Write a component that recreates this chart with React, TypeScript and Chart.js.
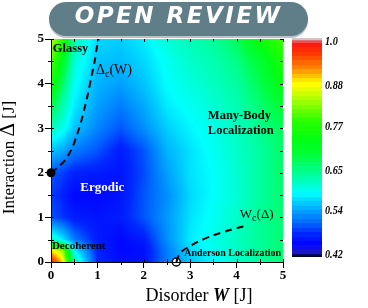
import React, { useEffect, useRef } from 'react';
import { Chart, registerables } from 'chart.js';
Chart.register(...registerables);

const SERIF = '"Liberation Serif", "Times New Roman", serif';

// Grid of the map (disorder W across, interaction Δ up)
const gridW = [0, 0.25, 0.5, 1, 1.5, 2, 2.5, 3, 3.5, 4, 4.5, 5];
const gridD = [0, 0.25, 0.5, 1, 1.5, 2, 2.5, 3, 3.5, 4, 4.5, 5];

// Map values, one row per Δ (ascending), columns follow gridW
const rowD0 = [1.0, 0.9, 0.64, 0.48, 0.46, 0.465, 0.52, 0.56, 0.585, 0.615, 0.64, 0.665];
const rowD025 = [0.9, 0.84, 0.59, 0.475, 0.455, 0.46, 0.52, 0.57, 0.595, 0.618, 0.642, 0.665];
const rowD05 = [0.62, 0.58, 0.52, 0.47, 0.455, 0.47, 0.53, 0.58, 0.6, 0.62, 0.645, 0.665];
const rowD1 = [0.5, 0.485, 0.47, 0.465, 0.47, 0.5, 0.535, 0.575, 0.595, 0.615, 0.645, 0.665];
const rowD15 = [0.49, 0.475, 0.455, 0.455, 0.465, 0.5, 0.53, 0.57, 0.59, 0.61, 0.64, 0.668];
const rowD2 = [0.5, 0.49, 0.475, 0.47, 0.465, 0.495, 0.54, 0.575, 0.59, 0.612, 0.64, 0.67];
const rowD25 = [0.56, 0.545, 0.52, 0.5, 0.47, 0.5, 0.55, 0.575, 0.595, 0.615, 0.64, 0.67];
const rowD3 = [0.62, 0.6, 0.56, 0.525, 0.5, 0.53, 0.565, 0.585, 0.6, 0.62, 0.65, 0.68];
const rowD35 = [0.69, 0.63, 0.58, 0.54, 0.52, 0.545, 0.58, 0.595, 0.61, 0.63, 0.665, 0.7];
const rowD4 = [0.77, 0.67, 0.595, 0.55, 0.54, 0.56, 0.59, 0.605, 0.62, 0.64, 0.68, 0.74];
const rowD45 = [0.81, 0.72, 0.61, 0.56, 0.555, 0.57, 0.595, 0.615, 0.63, 0.655, 0.7, 0.77];
const rowD5 = [0.85, 0.78, 0.63, 0.57, 0.565, 0.58, 0.61, 0.625, 0.645, 0.675, 0.75, 0.8];
const mapRows = [rowD0, rowD025, rowD05, rowD1, rowD15, rowD2, rowD25, rowD3, rowD35, rowD4, rowD45, rowD5];

// Colour bar
const cbLabels = ['1.0', '0.88', '0.77', '0.65', '0.54', '0.42'];
const cbValues = [1.0, 0.88, 0.77, 0.65, 0.54, 0.42];

// Critical line Δc(W)
const critDeltaW = [0, 0.15, 0.3, 0.44, 0.55, 0.65, 0.73, 0.8, 0.87, 0.94, 1.01, 1.03];
const critDeltaD = [2.0, 2.12, 2.28, 2.52, 2.82, 3.15, 3.48, 3.79, 4.15, 4.5, 4.95, 5.0];
// Critical line Wc(Δ)
const critWW = [2.7, 2.78, 3.0, 3.2, 3.5, 3.8, 4.07, 4.25];
const critWD = [0.0, 0.2, 0.36, 0.47, 0.6, 0.7, 0.78, 0.82];
// Special points
const glassyPoint = { x: 0, y: 2 };
const andersonPoint = { x: 2.7, y: 0 };

// Region labels (data coordinates of the text's left baseline)
const regionLabels = [
  { text: 'Glassy', x: 0.04, y: 4.71, font: 'bold 12.5px', color: '#000' },
  { text: 'Many-Body', x: 3.38, y: 3.2, font: 'bold 12.5px', color: '#000' },
  { text: 'Localization', x: 3.38, y: 2.88, font: 'bold 12.5px', color: '#000' },
  { text: 'Ergodic', x: 0.63, y: 1.6, font: 'bold 13px', color: '#fff' },
  { text: 'Decoherent', x: 0.02, y: 0.29, font: 'bold 11px', color: '#000' },
  { text: 'Anderson Localization', x: 2.87, y: 0.13, font: 'bold 10px', color: '#000' },
];

const cmapStops: number[][] = [
  [0.414, 0, 0, 0], [0.424, 10, 10, 120], [0.432, 30, 30, 225], [0.45, 0, 0, 255],
  [0.48, 0, 40, 255], [0.507, 0, 100, 255], [0.534, 0, 150, 255], [0.562, 0, 200, 255],
  [0.589, 0, 255, 255], [0.616, 0, 255, 200], [0.651, 0, 255, 140], [0.692, 0, 255, 60],
  [0.733, 0, 255, 20], [0.785, 40, 255, 0], [0.823, 120, 255, 0], [0.858, 200, 255, 0],
  [0.886, 255, 255, 0], [0.907, 255, 200, 0], [0.932, 255, 130, 0], [0.967, 255, 60, 0],
  [1.0, 255, 20, 20], [1.004, 255, 30, 30], [1.007, 200, 200, 200], [1.02, 200, 200, 200],
];

function cmap(v: number): number[] {
  if (v <= cmapStops[0][0]) return cmapStops[0].slice(1);
  for (let i = 1; i < cmapStops.length; i++) {
    const s1 = cmapStops[i];
    if (v <= s1[0]) {
      const s0 = cmapStops[i - 1];
      const t = (v - s0[0]) / (s1[0] - s0[0]);
      return [s0[1] + t * (s1[1] - s0[1]), s0[2] + t * (s1[2] - s0[2]), s0[3] + t * (s1[3] - s0[3])];
    }
  }
  return cmapStops[cmapStops.length - 1].slice(1);
}

function findCell(g: number[], v: number): [number, number] {
  if (v <= g[0]) return [0, 0];
  for (let i = 0; i < g.length - 1; i++) {
    if (v <= g[i + 1]) return [i, (v - g[i]) / (g[i + 1] - g[i])];
  }
  return [g.length - 2, 1];
}

function interp(W: number, D: number): number {
  const [i, tx] = findCell(gridW, W);
  const [j, ty] = findCell(gridD, D);
  const a = mapRows[j][i], b = mapRows[j][i + 1];
  const c = mapRows[j + 1][i], d = mapRows[j + 1][i + 1];
  return (a * (1 - tx) + b * tx) * (1 - ty) + (c * (1 - tx) + d * tx) * ty;
}

const heatmapPlugin = {
  id: 'heatmap',
  beforeDatasetsDraw(chart: any) {
    const { ctx, chartArea: a, scales } = chart;
    const xs = scales.x, ys = scales.y;
    const w = Math.round(a.right - a.left), h = Math.round(a.bottom - a.top);
    const off = document.createElement('canvas');
    off.width = w; off.height = h;
    const octx = off.getContext('2d')!;
    const img = octx.createImageData(w, h);
    for (let j = 0; j < h; j++) {
      const D = ys.getValueForPixel(a.top + j + 0.5);
      for (let i = 0; i < w; i++) {
        const W = xs.getValueForPixel(a.left + i + 0.5);
        let v = interp(W, D);
        v = Math.max(0.432, Math.min(1.0, v));
        const c = cmap(v);
        const k = (j * w + i) * 4;
        img.data[k] = c[0]; img.data[k + 1] = c[1]; img.data[k + 2] = c[2]; img.data[k + 3] = 255;
      }
    }
    octx.putImageData(img, 0, 0);
    ctx.drawImage(off, a.left, a.top);
  },
};

function drawParts(ctx: CanvasRenderingContext2D, parts: { t: string; f: string; dy?: number }[], cx: number, by: number) {
  let total = 0;
  for (const p of parts) { ctx.font = p.f; total += ctx.measureText(p.t).width; }
  let x = cx - total / 2;
  ctx.textAlign = 'left';
  ctx.textBaseline = 'alphabetic';
  for (const p of parts) {
    ctx.font = p.f;
    ctx.fillText(p.t, x, by + (p.dy || 0));
    x += ctx.measureText(p.t).width;
  }
}

const overlayPlugin = {
  id: 'overlay',
  afterDraw(chart: any) {
    const { ctx, chartArea: a, scales } = chart;
    const xs = scales.x, ys = scales.y;
    ctx.save();
    // minor and inner ticks
    ctx.strokeStyle = '#000';
    ctx.lineWidth = 1;
    ctx.beginPath();
    for (let v = 0; v <= 5.0001; v += 0.5) {
      const px = Math.round(xs.getPixelForValue(v)) + 0.5;
      const py = Math.round(ys.getPixelForValue(v)) + 0.5;
      const major = Math.abs(v - Math.round(v)) < 1e-6;
      if (!major) {
        ctx.moveTo(px, a.bottom); ctx.lineTo(px, a.bottom + 3);
        ctx.moveTo(a.left, py); ctx.lineTo(a.left - 3, py);
      }
      ctx.moveTo(px, a.bottom); ctx.lineTo(px, a.bottom - 3);
      ctx.moveTo(a.left, py); ctx.lineTo(a.left + 3, py);
      ctx.moveTo(px, a.top); ctx.lineTo(px, a.top + 3);
      ctx.moveTo(a.right, py); ctx.lineTo(a.right - 3, py);
    }
    ctx.stroke();

    // region labels
    ctx.textAlign = 'left';
    ctx.textBaseline = 'alphabetic';
    for (const l of regionLabels) {
      ctx.font = `${l.font} ${SERIF}`;
      ctx.fillStyle = l.color;
      ctx.fillText(l.text, xs.getPixelForValue(l.x), ys.getPixelForValue(l.y));
    }
    // Δc(W)
    ctx.fillStyle = '#000';
    let px = xs.getPixelForValue(0.97), py = ys.getPixelForValue(4.215);
    ctx.font = `14px ${SERIF}`; ctx.fillText('Δ', px, py); px += ctx.measureText('Δ').width;
    ctx.font = `10px ${SERIF}`; ctx.fillText('c', px, py + 3); px += ctx.measureText('c').width;
    ctx.font = `14px ${SERIF}`; ctx.fillText('(W)', px, py);
    // Wc(Δ)
    px = xs.getPixelForValue(4.07); py = ys.getPixelForValue(0.99);
    ctx.font = `13px ${SERIF}`; ctx.fillText('W', px, py); px += ctx.measureText('W').width;
    ctx.font = `10px ${SERIF}`; ctx.fillText('c', px, py + 3); px += ctx.measureText('c').width;
    ctx.font = `13px ${SERIF}`; ctx.fillText('(Δ)', px, py);

    // colour bar
    const cbX = a.right + 9, cbW = 30;
    const cbTop = a.top - 1, cbBot = a.bottom - 5;
    const y1 = cbTop + 4, y0 = cbBot - 2;
    const valAt = (yy: number) => 1.0 - (yy - y1) / (y0 - y1) * (1.0 - 0.42);
    const yAt = (v: number) => y1 + (1.0 - v) / (1.0 - 0.42) * (y0 - y1);
    const band = 4.4;
    for (let yy = cbTop; yy < cbBot; yy++) {
      const bi = Math.floor((yy - cbTop) / band);
      const yc = cbTop + (bi + 0.5) * band;
      let v = valAt(yy);
      if (v < 1.004 && v > 0.425) v = valAt(yc);
      const c = cmap(v);
      ctx.fillStyle = `rgb(${c[0] | 0},${c[1] | 0},${c[2] | 0})`;
      ctx.fillRect(cbX, yy, cbW, 1);
    }
    ctx.font = `italic bold 12px ${SERIF}`;
    ctx.fillStyle = '#000';
    ctx.textBaseline = 'middle';
    for (let i = 0; i < cbLabels.length; i++) {
      const ly = yAt(cbValues[i]);
      ctx.save();
      ctx.translate(cbX + cbW + 3, ly);
      ctx.scale(0.85, 1);
      ctx.fillText(cbLabels[i], 0, 0);
      ctx.restore();
    }

    // axis titles
    ctx.fillStyle = '#000';
    drawParts(ctx, [
      { t: 'Disorder ', f: `18px ${SERIF}` },
      { t: 'W', f: `italic bold 18px ${SERIF}` },
      { t: ' [J]', f: `18px ${SERIF}` },
    ], (a.left + a.right) / 2 + 32, a.bottom + 39);
    ctx.save();
    ctx.translate(14, (a.top + a.bottom) / 2 + 7);
    ctx.rotate(-Math.PI / 2);
    drawParts(ctx, [
      { t: 'Interaction ', f: `17px ${SERIF}` },
      { t: 'Δ', f: `21px ${SERIF}` },
      { t: ' [J]', f: `17px ${SERIF}` },
    ], 0, 0);
    ctx.restore();
    ctx.restore();
  },
};

export default function App() {
  const ref = useRef<HTMLCanvasElement>(null);
  useEffect(() => {
    if (!ref.current) return;
    const tickFont = { family: SERIF, size: 13, weight: 'bold' as const };
    const chart = new Chart(ref.current, {
      type: 'scatter',
      data: {
        datasets: [
          {
            data: critDeltaW.map((w, i) => ({ x: w, y: critDeltaD[i] })),
            showLine: true, borderColor: '#000', borderWidth: 2, borderDash: [7, 5],
            pointRadius: 0, fill: false, tension: 0.3,
          },
          {
            data: critWW.map((w, i) => ({ x: w, y: critWD[i] })),
            showLine: true, borderColor: '#000', borderWidth: 2, borderDash: [7, 5],
            pointRadius: 0, fill: false, tension: 0.3,
          },
          {
            data: [glassyPoint], pointRadius: 4.5, backgroundColor: '#000', borderColor: '#000',
            borderWidth: 0, clip: false as any,
          },
          {
            data: [andersonPoint], pointRadius: 4, backgroundColor: '#fff', borderColor: '#000',
            borderWidth: 1.5, clip: false as any,
          },
        ],
      },
      options: {
        animation: false,
        responsive: false,
        events: [],
        layout: { padding: { top: 39, right: 85, left: 0, bottom: 0 } },
        plugins: { legend: { display: false }, tooltip: { enabled: false } },
        scales: {
          x: {
            type: 'linear', min: 0, max: 5,
            ticks: { stepSize: 1, font: tickFont, color: '#000', padding: 0, maxRotation: 0 },
            grid: { drawOnChartArea: false, drawTicks: true, tickLength: 6, color: '#000', z: 1 },
            border: { color: '#000', width: 1, z: 1 } as any,
            afterFit: (s: any) => { s.height = 46; },
          },
          y: {
            type: 'linear', min: 0, max: 5,
            ticks: { stepSize: 1, font: tickFont, color: '#000', padding: 1 },
            grid: { drawOnChartArea: false, drawTicks: true, tickLength: 6, color: '#000', z: 1 },
            border: { color: '#000', width: 1, z: 1 } as any,
            afterFit: (s: any) => { s.width = 51; },
          },
        },
      },
      plugins: [heatmapPlugin, overlayPlugin],
    });
    return () => chart.destroy();
  }, []);

  return (
    <div style={{ position: 'fixed', left: 0, top: 0, width: 368, height: 308, background: '#fff' }}>
      <canvas ref={ref} width={368} height={308} style={{ display: 'block' }} />
      <div
        style={{
          position: 'absolute', left: 49, top: 2, width: 259, height: 34, borderRadius: 17,
          background: '#5f7e88', color: '#fff', textAlign: 'center', lineHeight: '34px',
          font: 'italic bold 23px "DejaVu Sans", sans-serif', letterSpacing: '2.5px',
          boxShadow: '0 2px 0 #b8c4c8',
        }}
      >
        OPEN REVIEW
      </div>
    </div>
  );
}
